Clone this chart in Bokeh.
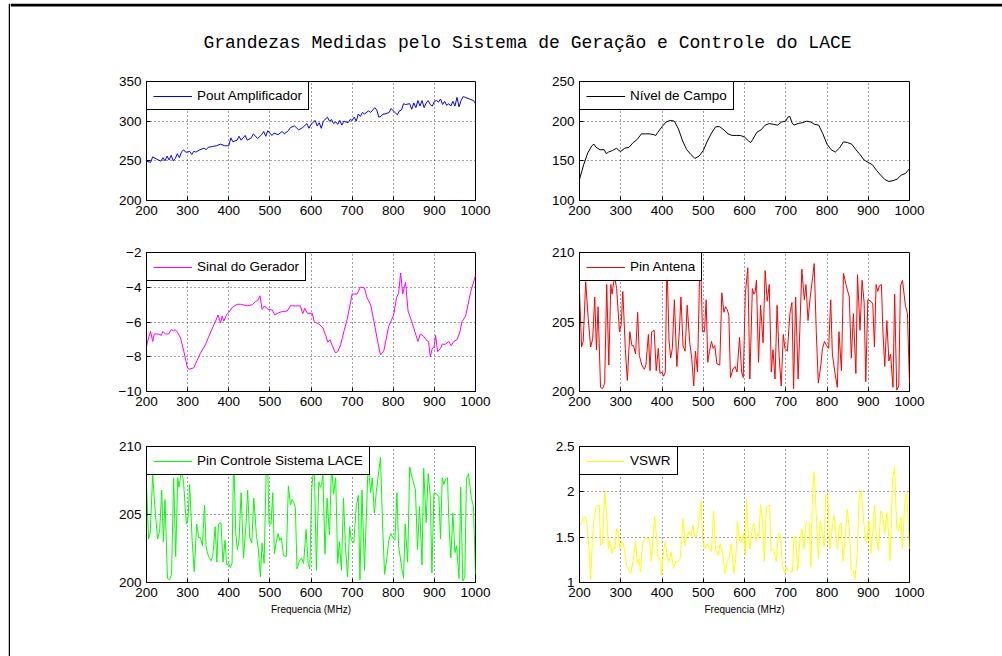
from bokeh.plotting import figure
from bokeh.layouts import column, row
from bokeh.models import Spacer, Legend, LegendItem, Label, FixedTicker, Range1d
from bokeh.embed import file_html
from bokeh.resources import INLINE

TITLE = "Grandezas Medidas pelo Sistema de Geração e Controle do LACE"
XLABEL = "Frequencia (MHz)"
x_ticks = [200, 300, 400, 500, 600, 700, 800, 900, 1000]

# ---- Pout Amplificador ----
pout_x = [200, 210, 215, 225, 235, 240, 245, 250, 255, 260,
          265, 270, 275, 280, 285, 290, 295, 300, 305, 310,
          315, 320, 330, 340, 345, 350, 360, 370, 380, 390,
          400, 405, 410, 420, 425, 430, 440, 445, 455, 460,
          470, 480, 485, 490, 495, 500, 505, 510, 520, 530,
          535, 545, 550, 560, 570, 580, 590, 595, 600, 610,
          615, 620, 625, 630, 640, 645, 650, 655, 660, 665,
          670, 675, 680, 690, 695, 700, 705, 710, 715, 720,
          725, 730, 740, 745, 750, 755, 760, 765, 770, 775,
          780, 790, 795, 800, 810, 815, 820, 825, 830, 840,
          845, 850, 855, 860, 865, 870, 875, 880, 885, 890,
          895, 900, 905, 910, 915, 920, 925, 930, 935, 940,
          945, 950, 955, 960, 965, 970, 975, 985, 995, 1000]
pout_y = [249.6, 248, 255, 252, 249.6, 254, 250, 256, 251, 257,
          250, 253, 259, 254, 261, 264, 261, 261, 262, 258,
          262, 261, 264, 266, 264, 267, 268, 269, 271, 269,
          269, 279, 274, 276, 281, 276, 282, 276, 279, 284,
          278, 283, 287, 281, 288, 285, 282, 285, 283, 287,
          284, 288, 292, 294, 289, 292, 297, 291, 296, 301,
          294, 298, 291, 300, 305, 300, 302, 297, 299, 296,
          301, 295, 300, 298, 302, 301, 305, 300, 309, 306,
          311, 309, 313, 311, 314, 317, 314, 305, 306, 309,
          309, 311, 316, 313, 308, 313, 314, 322, 321, 322,
          315, 323, 317, 326, 319, 326, 317, 323, 326, 321,
          319, 325, 326, 324, 328, 321, 325, 320, 322, 319,
          325, 319, 330, 318, 326, 331, 330, 328, 326, 322]

# ---- Nivel de Campo ----
campo_x = [200, 210, 220, 230, 235, 240, 250, 260, 265, 270,
           280, 290, 295, 300, 310, 320, 330, 340, 350, 360,
           370, 380, 385, 390, 400, 410, 420, 430, 440, 450,
           460, 470, 480, 490, 500, 510, 520, 530, 540, 550,
           560, 570, 580, 590, 600, 610, 615, 620, 630, 640,
           650, 660, 670, 680, 690, 700, 705, 710, 715, 720,
           730, 740, 750, 760, 770, 780, 790, 800, 810, 820,
           830, 840, 850, 860, 870, 880, 890, 900, 910, 920,
           930, 940, 950, 960, 970, 980, 990, 1000]
campo_y = [126.5, 145, 160, 169, 171, 167, 164, 164, 159, 161,
           163, 166, 163, 162, 166, 167, 173, 177, 184, 184,
           184, 183, 182, 186, 193, 199, 201, 200, 190, 175,
           164, 158, 153, 156, 163, 175, 185, 193, 193, 189,
           184, 182, 182, 182, 180, 175, 173, 177, 186, 189,
           195, 197, 196, 195, 199, 200, 205, 206, 198, 195,
           197, 198, 200, 199, 196, 195, 184, 171, 164, 161,
           166, 174, 173, 171, 164, 158, 151, 148, 145, 138,
           132, 126.5, 124, 125, 127, 132, 134, 140]

# ---- Sinal do Gerador ----
sinal_x = [200, 206, 210, 215, 219, 230, 236, 240, 246, 254,
           260, 266, 270, 275, 283, 291, 299, 303, 315, 323,
           331, 343, 356, 368, 374, 380, 384, 388, 395, 400,
           408, 420, 429, 445, 457, 465, 471, 476, 481, 487,
           495, 506, 512, 522, 530, 542, 550, 574, 580, 585,
           591, 603, 608, 619, 629, 635, 641, 646, 651, 659,
           665, 672, 680, 688, 700, 712, 720, 730, 736, 745,
           753, 762, 769, 777, 789, 801, 808, 813, 818, 823,
           830, 836, 846, 860, 866, 874, 882, 886, 890, 895,
           899, 903, 908, 915, 919, 927, 935, 941, 947, 955,
           962, 967, 976, 988, 1000]
sinal_y = [-7.41, -6.83, -6.54, -7.12, -6.69, -6.69, -6.77, -6.54, -6.69, -6.69,
           -6.44, -6.50, -6.44, -6.58, -6.93, -7.71, -8.59, -8.72, -8.64, -8.20,
           -7.80, -7.32, -6.58, -5.95, -5.60, -6.05, -5.66, -5.95, -5.56, -5.46,
           -5.17, -4.98, -4.98, -5.07, -5.01, -4.82, -4.74, -4.49, -5.27, -5.07,
           -5.27, -5.31, -5.60, -5.46, -5.40, -5.37, -5.07, -5.07, -5.52, -5.21,
           -5.50, -5.50, -5.99, -6.11, -6.34, -6.73, -7.16, -7.02, -7.32, -7.77,
           -7.71, -7.32, -6.54, -5.85, -4.39, -4.39, -4.00, -4.04, -4.59, -5.01,
           -5.95, -7.12, -7.90, -7.67, -6.24, -5.60, -4.59, -4.35, -3.18, -4.39,
           -3.71, -5.37, -6.05, -7.12, -6.69, -6.83, -7.08, -7.12, -8.00, -7.51,
           -7.47, -6.77, -7.71, -7.51, -7.28, -7.28, -7.12, -7.36, -7.12, -7.02,
           -6.58, -5.99, -5.66, -4.29, -3.32]

# ---- Pin Antena ----
pin_x = [200, 205, 209, 215, 221, 227, 232, 237, 241, 245,
         251, 256, 261, 266, 271, 276, 279, 285, 290, 297,
         301, 305, 311, 316, 322, 327, 331, 336, 341, 345,
         351, 357, 361, 367, 371, 375, 381, 386, 391, 395,
         400, 404, 408, 412, 417, 421, 425, 430, 436, 442,
         446, 451, 456, 461, 467, 472, 477, 481, 486, 491,
         494, 498, 503, 507, 511, 515, 520, 524, 528, 533,
         540, 545, 550, 554, 558, 562, 566, 572, 577, 582,
         588, 593, 597, 602,
         608, 613, 619, 623, 626, 629, 634, 639, 645, 650,
         655, 660, 665, 669, 674, 679, 684, 689, 694, 698,
         704, 710, 715, 719, 724, 730, 734, 739, 745, 749,
         754, 759, 765, 769, 774, 779, 785, 789, 794, 799,
         804, 809, 813, 820, 825, 829, 835, 840, 846, 854,
         859, 864, 870, 874, 880, 885, 890, 894, 899, 906,
         911, 915, 919, 923, 927, 932, 935, 940, 945, 950,
         954, 960, 964, 969, 974, 978, 983, 990, 995, 1000]
pin_y = [207.2, 203.2, 203.6, 207.9, 205.3, 203.2, 203.8, 206.8, 203.0, 206.1,
         200.3, 200.2, 200.6, 207.7, 201.9, 207.7, 207.0, 208.3, 207.4, 204.3,
         204.8, 207.2, 203.1, 200.8, 204.3, 203.3, 203.3, 202.7, 205.7, 202.6,
         201.9, 201.6, 201.9, 204.1, 201.5, 204.3, 204.4, 201.5, 203.1, 201.3,
         201.4, 201.1, 201.4, 209.5, 203.7, 202.4, 203.1, 206.6, 201.8, 204.3,
         206.8, 203.3, 202.9, 206.2, 203.6, 202.4, 200.4, 202.9, 201.4, 208.2,
         209.3, 204.3, 204.3, 206.6, 202.1, 202.9, 203.6, 203.1, 203.3, 202.0,
         201.9, 207.1, 205.7, 206.1, 205.9, 205.5, 201.0, 201.6, 201.8, 201.4,
         203.9, 201.4, 201.0, 207.0,
         208.9, 200.9, 207.4, 207.0, 207.2, 208.0, 202.1, 206.2, 203.5, 208.7,
         206.5, 207.7, 201.4, 203.0, 200.9, 206.2, 202.5, 200.4, 204.1, 203.1,
         202.9, 205.6, 206.4, 200.2, 206.8, 200.9, 204.3, 208.8, 206.6, 207.7,
         205.1, 206.7, 208.2, 209.2, 204.3, 200.6, 201.9, 203.1, 203.6, 203.3,
         203.1, 206.6, 202.7, 201.2, 200.3, 204.3, 201.5, 208.5, 207.7, 206.8,
         202.4, 205.6, 201.3, 208.4, 204.4, 208.0, 206.4, 200.7, 206.6, 206.5,
         206.3, 203.2, 207.7, 207.2, 207.6, 207.7, 204.7, 201.8, 205.1, 202.2,
         202.7, 200.3, 207.0, 200.1, 200.4, 207.6, 208.0, 206.2, 205.6, 200.6]

# ---- Pin Controle Sistema LACE (same readings as Pin Antena) ----
ctl_x = list(pin_x)
ctl_y = list(pin_y)

# ---- VSWR ----
vswr_x = [200, 205, 209, 214, 219, 224, 227, 231, 236, 240,
          244, 248, 251, 256, 261, 266, 270, 274, 278, 282,
          286, 290, 294, 298, 302, 306, 310, 314, 320, 325,
          331, 336, 340, 344, 348, 353, 359, 365, 370, 374,
          378, 382, 386, 391, 395, 399, 404, 408, 413, 417,
          422, 428, 433, 438, 444, 451, 456, 460, 465, 470,
          475, 479, 483, 487, 491, 495, 499, 503, 509, 515,
          520, 525, 530, 536, 541, 547, 553, 558, 563, 568,
          574, 579, 583, 588, 593, 598, 602,
          605, 609, 613, 619, 623, 627, 632, 635, 639, 644,
          648, 653, 657, 661, 664, 668, 672, 677, 682, 687,
          692, 698, 702, 706, 710, 716, 720, 724, 729, 734,
          739, 744, 749, 753, 757, 761, 765, 769, 774, 779,
          784, 789, 793, 797, 802, 807, 812, 817, 821, 826,
          830, 834, 839, 844, 849, 854, 859, 864, 868, 873,
          878, 883, 888, 893, 897, 902, 906, 911, 915, 920,
          925, 930, 935, 940, 945, 949, 953, 959, 964, 969,
          974, 979, 983, 988, 993, 1000]
vswr_y = [1.635, 1.646, 1.72, 1.726, 1.61, 1.30, 1.03, 1.445, 1.737, 1.83,
          1.847, 1.854, 1.41, 1.43, 2.0, 1.737, 1.37, 1.46, 1.32, 1.39,
          1.37, 1.60, 1.54, 1.37, 1.45, 1.43, 1.34, 1.19, 1.12, 1.10,
          1.28, 1.46, 1.21, 1.26, 1.12, 1.445, 1.48, 1.49, 1.48, 1.23,
          1.445, 1.737, 1.54, 1.26, 1.26, 1.08, 1.35, 1.45, 1.28, 1.23,
          1.34, 1.15, 1.23, 1.23, 1.26, 1.71, 1.41, 1.51, 1.56, 1.51,
          1.635, 1.51, 1.50, 1.59, 1.737, 1.90, 1.45, 1.37, 1.43, 1.37,
          1.34, 1.79, 1.37, 1.30, 1.43, 1.31, 1.10, 1.24, 1.28, 1.43,
          1.10, 1.28, 1.68, 1.46, 1.445, 1.54, 1.30,
          1.92, 1.55, 1.37, 1.61, 1.65, 1.46, 1.54, 1.51, 1.86, 1.68,
          1.23, 1.83, 1.85, 1.85, 1.35, 1.37, 1.34, 1.23, 1.54, 1.53,
          1.19, 1.10, 1.17, 1.13, 1.12, 1.12, 1.50, 1.51, 1.13, 1.445,
          1.59, 1.37, 1.66, 1.66, 1.65, 1.17, 1.99, 2.22, 1.74, 1.26,
          1.68, 1.54, 1.39, 1.97, 1.96, 1.37, 1.59, 1.74, 1.54, 1.37,
          1.63, 1.66, 1.23, 1.48, 1.81, 1.59, 1.13, 1.13, 1.04, 1.30,
          1.94, 2.01, 1.74, 1.46, 1.44, 1.68, 1.32, 1.55, 1.85, 1.48,
          1.35, 1.79, 1.75, 1.54, 1.77, 1.57, 1.24, 2.14, 2.28, 1.59,
          1.57, 1.72, 1.37, 1.85, 2.0, 1.37]

FONT = "Liberation Sans"


def panel(xs, ys, color, label, yr, yticks, w, h, bl, br, bt, bb,
          xlabel=None, overrides=None):
    p = figure(width=w, height=h, x_range=Range1d(200, 1000),
               y_range=Range1d(yr[0], yr[1]), toolbar_location=None,
               output_backend="svg", min_border_left=bl, min_border_right=br,
               min_border_top=bt, min_border_bottom=bb,
               background_fill_color="white", border_fill_color="white",
               outline_line_color="black", outline_line_alpha=1.0)
    r = p.line(xs, ys, line_color=color, line_width=1)
    p.xaxis.ticker = FixedTicker(ticks=x_ticks)
    p.yaxis.ticker = FixedTicker(ticks=yticks)
    if overrides:
        p.yaxis.major_label_overrides = overrides
    p.axis.major_tick_in = 4
    p.axis.major_tick_out = 0
    p.axis.minor_tick_line_color = None
    p.axis.axis_line_color = "black"
    p.axis.major_tick_line_color = "black"
    p.axis.major_label_text_font = FONT
    p.axis.major_label_text_font_size = "13.5px"
    p.axis.major_label_text_color = "black"
    p.axis.major_label_standoff = 5
    p.grid.grid_line_color = "black"
    p.grid.grid_line_dash = "1 3"
    p.grid.grid_line_alpha = 0.75
    if xlabel:
        p.xaxis.axis_label = xlabel
        p.xaxis.axis_label_text_font = FONT
        p.xaxis.axis_label_text_font_size = "10px"
        p.xaxis.axis_label_text_font_style = "normal"
        p.xaxis.axis_label_text_color = "black"
        p.xaxis.axis_label_standoff = 4
    leg = Legend(items=[LegendItem(label=label, renderers=[r])],
                 location="top_left", margin=0, padding=6, spacing=0,
                 glyph_width=39, glyph_height=14, label_height=14,
                 label_standoff=5, border_line_color="black",
                 border_line_width=1, border_line_alpha=1.0,
                 background_fill_color="white", background_fill_alpha=1.0,
                 label_text_font=FONT, label_text_font_size="13.5px",
                 label_text_color="black")
    p.add_layout(leg)
    return p


W1, W2 = 517, 475
L1, R1, L2, R2 = 136, 52, 52, 93
H1, T1, B1 = 165, 20, 26
H2, T2, B2 = 191, 26, 26
H3, T3, B3 = 239, 29, 74

p1 = panel(pout_x, pout_y, "#0000ff", "Pout Amplificador", (200, 350),
           [200, 250, 300, 350], W1, H1, L1, R1, T1, B1)
p2 = panel(campo_x, campo_y, "#000000", "Nível de Campo", (100, 250),
           [100, 150, 200, 250], W2, H1, L2, R2, T1, B1)
p3 = panel(sinal_x, sinal_y, "#ff00ff", "Sinal do Gerador", (-10, -2),
           [-10, -8, -6, -4, -2], W1, H2, L1, R1, T2, B2)
p4 = panel(pin_x, pin_y, "#ff0000", "Pin Antena", (200, 210),
           [200, 205, 210], W2, H2, L2, R2, T2, B2)
p5 = panel(ctl_x, ctl_y, "#00ff00", "Pin Controle Sistema LACE", (200, 210),
           [200, 205, 210], W1, H3, L1, R1, T3, B3, xlabel=XLABEL)
p6 = panel(vswr_x, vswr_y, "#ffff00", "VSWR", (1, 2.5),
           [1, 1.5, 2, 2.5], W2, H3, L2, R2, T3, B3, xlabel=XLABEL,
           overrides={1: "1", 1.5: "1.5", 2: "2", 2.5: "2.5"})

# header: top border of the page frame and the overall title
HW, HH = 992, 58
head = figure(width=HW, height=HH, x_range=Range1d(0, HW),
              y_range=Range1d(0, HH), toolbar_location=None,
              output_backend="svg", min_border=0, x_axis_location=None,
              y_axis_location=None, outline_line_color=None)
head.grid.visible = False
head.quad(left=[0], right=[HW], bottom=[HH - 3], top=[HH],
          fill_color="black", line_color=None)
head.add_layout(Label(x=517, y=19, text=TITLE, text_align="center",
                      text_baseline="middle", text_font="Liberation Mono",
                      text_font_size="18px", text_color="black"))

# left border of the page frame
PH = HH + H1 + H2 + H3
side = figure(width=2, height=PH, x_range=Range1d(0, 2),
              y_range=Range1d(0, PH), toolbar_location=None,
              output_backend="svg", min_border=0, x_axis_location=None,
              y_axis_location=None, outline_line_color=None)
side.grid.visible = False
side.quad(left=[0], right=[2], bottom=[0], top=[PH],
          fill_color="black", line_color=None)

page = column(
    Spacer(width=1002, height=3),
    row(Spacer(width=8, height=PH), side,
        column(head, row(p1, p2), row(p3, p4), row(p5, p6))),
)

open("out.html", "w").write(file_html(page, INLINE))
